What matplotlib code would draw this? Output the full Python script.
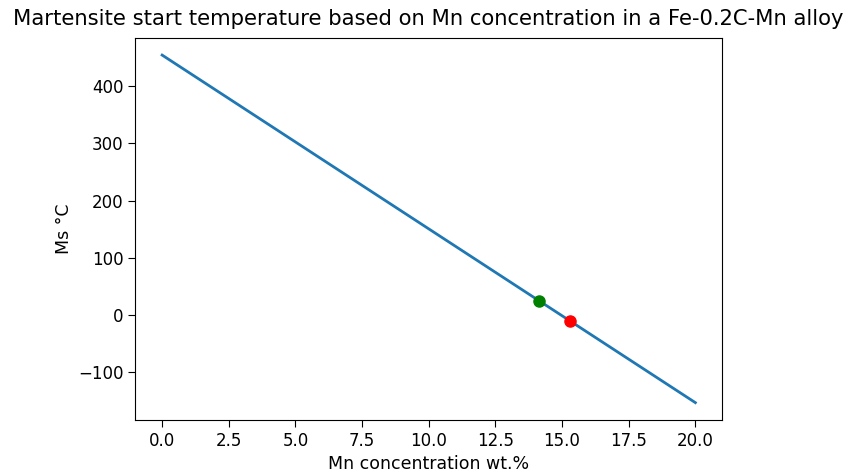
import numpy as np
import matplotlib
matplotlib.use("Agg")
import matplotlib.pyplot as plt

# Ms line for Fe-0.2C-Mn (end points)
mn_line = [0.0, 20.0]
ms_line = [454.4, -153.6]

# marked points
green_pt = (14.13, 25.0)
red_pt = (15.28, -10.0)

fig = plt.figure(figsize=(8.43, 4.76), dpi=100)
ax = fig.add_axes([0.1607, 0.1176, 0.6958, 0.8032])

ax.plot(mn_line, ms_line, color="#1f77b4", linewidth=2)
ax.plot(green_pt[0], green_pt[1], "o", color="green", markersize=8)
ax.plot(red_pt[0], red_pt[1], "o", color="red", markersize=8)

ax.set_xticks(np.arange(0, 20.1, 2.5))
ax.set_yticks([-100, 0, 100, 200, 300, 400])
ax.tick_params(labelsize=12, length=5)

ax.set_title("Martensite start temperature based on Mn concentration in a Fe-0.2C-Mn alloy",
             fontsize=15.2, pad=9)
ax.set_xlabel("Mn concentration wt.%", fontsize=12.5)
ax.set_ylabel("Ms °C", fontsize=12.5)

fig.savefig("out.png", dpi=100)
